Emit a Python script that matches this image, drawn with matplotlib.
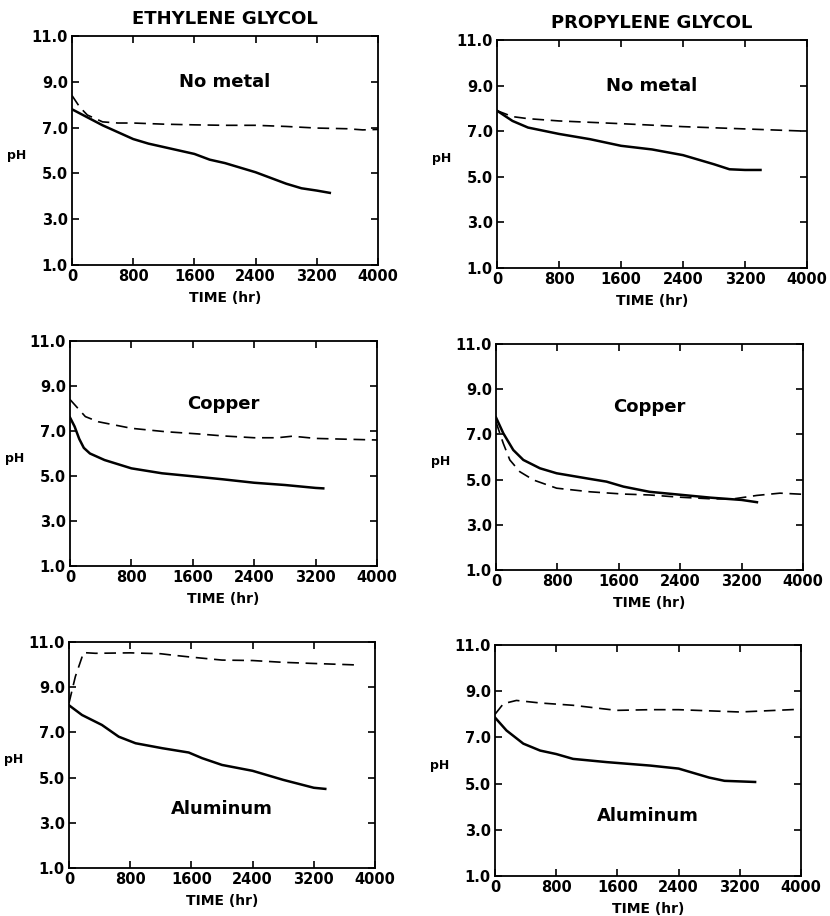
import matplotlib
matplotlib.use('Agg')
import matplotlib.pyplot as plt

# pH vs time for glycol solutions, solid and dashed traces per panel

# ethylene glycol, no metal
eg_none_solid_t = [0, 200, 400, 600, 800, 1000, 1200, 1400, 1600, 1800, 2000, 2200, 2400, 2600, 2800, 3000, 3200, 3370]
eg_none_solid_ph = [7.8, 7.45, 7.1, 6.8, 6.5, 6.3, 6.15, 6.0, 5.85, 5.6, 5.45, 5.25, 5.05, 4.8, 4.55, 4.35, 4.25, 4.15]
eg_none_dash_t = [0, 100, 200, 400, 600, 800, 1200, 1600, 2000, 2400, 2800, 3200, 3600, 3800, 4000]
eg_none_dash_ph = [8.4, 7.9, 7.55, 7.25, 7.2, 7.2, 7.15, 7.12, 7.1, 7.1, 7.05, 6.98, 6.95, 6.9, 6.92]

# propylene glycol, no metal
pg_none_solid_t = [0, 200, 400, 800, 1200, 1600, 2000, 2400, 2800, 3000, 3200, 3400]
pg_none_solid_ph = [7.9, 7.45, 7.16, 6.88, 6.65, 6.36, 6.2, 5.95, 5.55, 5.33, 5.3, 5.3]
pg_none_dash_t = [0, 200, 400, 800, 1600, 2400, 3200, 4000]
pg_none_dash_ph = [7.9, 7.64, 7.55, 7.45, 7.33, 7.2, 7.1, 7.0]

# ethylene glycol, copper
eg_cu_solid_t = [0, 60, 120, 180, 260, 450, 800, 1200, 1650, 2000, 2400, 2800, 3200, 3300]
eg_cu_solid_ph = [7.6, 7.2, 6.65, 6.25, 6.0, 5.71, 5.34, 5.12, 4.97, 4.85, 4.7, 4.6, 4.47, 4.45]
eg_cu_dash_t = [0, 200, 370, 800, 1240, 1670, 2000, 2400, 2700, 2900, 3200, 4000]
eg_cu_dash_ph = [8.4, 7.64, 7.41, 7.12, 6.97, 6.87, 6.78, 6.7, 6.7, 6.77, 6.67, 6.6]

# propylene glycol, copper
pg_cu_solid_t = [0, 95, 225, 356, 573, 790, 1225, 1440, 1660, 2000, 2400, 2800, 3200, 3400]
pg_cu_solid_ph = [7.75, 7.05, 6.31, 5.87, 5.5, 5.28, 5.03, 4.91, 4.69, 4.46, 4.33, 4.2, 4.1, 4.0]
pg_cu_dash_t = [0, 95, 180, 310, 490, 790, 1225, 1660, 2000, 2400, 2800, 3100, 3400, 3700, 4000]
pg_cu_dash_ph = [7.55, 6.6, 5.87, 5.35, 4.98, 4.62, 4.46, 4.36, 4.32, 4.22, 4.15, 4.15, 4.3, 4.4, 4.35]

# ethylene glycol, aluminum
eg_al_solid_t = [0, 170, 430, 650, 870, 1220, 1565, 1740, 2000, 2400, 2800, 3200, 3350]
eg_al_solid_ph = [8.2, 7.77, 7.33, 6.81, 6.52, 6.3, 6.11, 5.86, 5.56, 5.3, 4.9, 4.55, 4.5]
eg_al_dash_t = [0, 83, 190, 345, 800, 1200, 1350, 1600, 2000, 2400, 2800, 3200, 3800]
eg_al_dash_ph = [8.3, 9.47, 10.53, 10.5, 10.52, 10.48, 10.42, 10.33, 10.2, 10.18, 10.1, 10.05, 9.98]

# propylene glycol, aluminum
pg_al_solid_t = [0, 150, 370, 590, 800, 1020, 1460, 2030, 2400, 2800, 3000, 3400]
pg_al_solid_ph = [7.86, 7.3, 6.73, 6.43, 6.28, 6.07, 5.93, 5.78, 5.65, 5.26, 5.12, 5.07]
pg_al_dash_t = [0, 110, 280, 590, 1020, 1590, 2030, 2400, 2800, 3200, 4000]
pg_al_dash_ph = [8.0, 8.46, 8.6, 8.49, 8.39, 8.17, 8.2, 8.2, 8.15, 8.1, 8.22]

x_ticks = [0, 800, 1600, 2400, 3200, 4000]
y_ticks = [1.0, 3.0, 5.0, 7.0, 9.0, 11.0]
column_titles = ['ETHYLENE GLYCOL', 'PROPYLENE GLYCOL']

panels = [
    (eg_none_solid_t, eg_none_solid_ph, eg_none_dash_t, eg_none_dash_ph, 'No metal', 9.0),
    (pg_none_solid_t, pg_none_solid_ph, pg_none_dash_t, pg_none_dash_ph, 'No metal', 9.0),
    (eg_cu_solid_t, eg_cu_solid_ph, eg_cu_dash_t, eg_cu_dash_ph, 'Copper', 8.2),
    (pg_cu_solid_t, pg_cu_solid_ph, pg_cu_dash_t, pg_cu_dash_ph, 'Copper', 8.2),
    (eg_al_solid_t, eg_al_solid_ph, eg_al_dash_t, eg_al_dash_ph, 'Aluminum', 3.6),
    (pg_al_solid_t, pg_al_solid_ph, pg_al_dash_t, pg_al_dash_ph, 'Aluminum', 3.6),
]

# axes boxes in pixels: left, top, right, bottom
boxes = [(72, 36, 378, 265), (497, 40, 807, 268),
         (70, 341, 377, 566), (496, 344, 803, 570),
         (69, 642, 375, 868), (495, 645, 801, 876)]

W, H = 830, 916
fig = plt.figure(figsize=(W / 100, H / 100), dpi=100)
font = dict(family='DejaVu Sans', fontweight='bold')

for i, (st, sp, dt, dp, label, label_y) in enumerate(panels):
    l, t, r, b = boxes[i]
    ax = fig.add_axes([l / W, 1 - b / H, (r - l) / W, (b - t) / H])
    ax.plot(st, sp, color='black', lw=1.8, solid_joinstyle='round')
    ax.plot(dt, dp, color='black', lw=1.2, dashes=(7, 4))
    ax.set_xlim(0, 4000)
    ax.set_ylim(1, 11)
    ax.set_xticks(x_ticks)
    ax.set_xticklabels([str(v) for v in x_ticks], fontsize=10.5, **font)
    ax.set_yticks(y_ticks)
    ax.set_yticklabels([f'{v:.1f}' for v in y_ticks], fontsize=10.5, **font)
    ax.tick_params(direction='in', length=5, width=1.2, top=True, right=True, pad=3)
    for s in ax.spines.values():
        s.set_linewidth(1.3)
    ax.set_xlabel('TIME (hr)', fontsize=10, labelpad=5, **font)
    ax.text(-0.18, 0.48, 'pH', transform=ax.transAxes, fontsize=9, ha='center', va='center', **font)
    ax.text(2000, label_y, label, fontsize=13, ha='center', va='center', **font)
    if i < 2:
        ax.set_title(column_titles[i], fontsize=13, pad=9, **font)

fig.savefig('out.png', dpi=100)
